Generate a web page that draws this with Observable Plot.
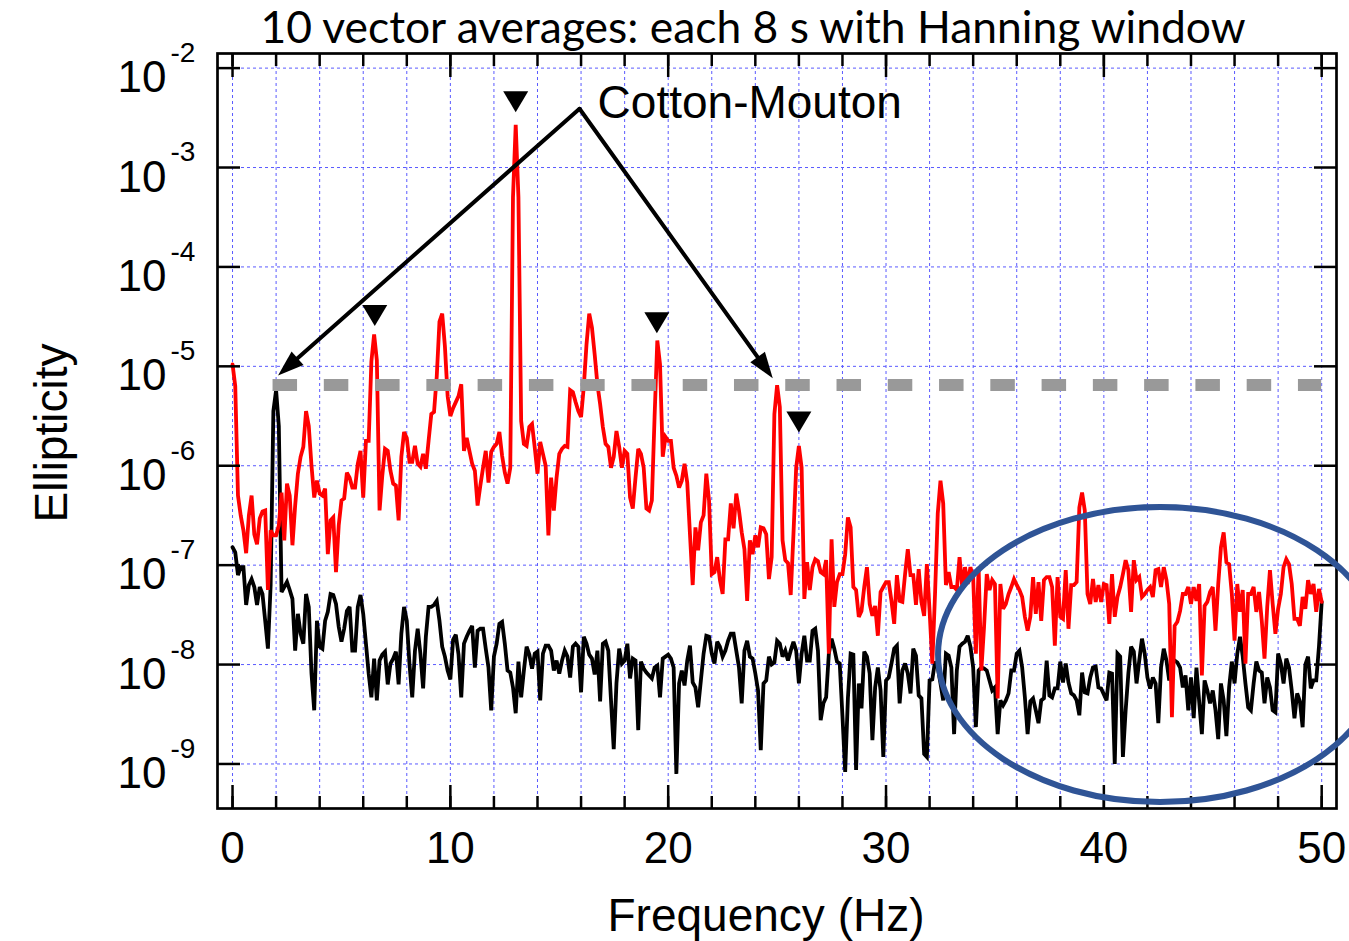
<!DOCTYPE html>
<html>
<head>
<meta charset="utf-8">
<script src="https://cdn.jsdelivr.net/npm/d3@7"></script>
<script src="https://cdn.jsdelivr.net/npm/@observablehq/plot@0.6"></script>
<style>
  html, body { margin: 0; padding: 0; background: #fff; }
  #chart { width: 1349px; height: 941px; overflow: hidden; }
</style>
</head>
<body>
<div id="chart"></div>
<script>
// ---------- DATA ----------
const freqStep = 0.125; // Hz per bin (8 s records)
// log10 of ellipticity, with magnetic field (red)
const redLog10 = [
-4.98,-5.2,-6.3,-6.5,-6.65,-6.88,-6.5,-6.3,-6.69,-6.79,
-6.53,-6.46,-6.45,-7.25,-6.65,-6.7,-6.7,-6.6,-6.27,-6.75,
-6.18,-6.3,-6.8,-6.4,-6.08,-5.91,-5.81,-5.45,-5.6,-6.0,
-6.32,-6.15,-6.28,-6.3,-6.23,-6.89,-6.55,-6.52,-7.07,-6.6,
-6.35,-6.33,-6.07,-6.12,-6.22,-6.22,-5.98,-5.85,-6.32,-5.75,
-5.75,-4.95,-4.68,-4.94,-6.45,-6.1,-5.83,-5.85,-6.05,-6.18,
-6.2,-6.55,-5.91,-5.66,-5.72,-5.96,-5.96,-5.8,-5.98,-6.01,
-5.88,-6.03,-5.75,-5.48,-5.46,-5.1,-4.55,-4.47,-4.8,-5.3,
-5.5,
-5.42,-5.36,-5.3,-5.18,-5.85,-5.72,-5.85,-5.98,-6.05,
-6.4,-6.2,-6.02,-5.85,-6.17,-5.86,-5.81,-5.78,-5.66,-5.9,
-6.07,-6.18,-6.02,-3.3,-2.57,-3.3,-5.55,-5.78,-5.8,-5.61,
-5.58,-5.82,-6.08,-5.76,-5.88,-6.0,-6.7,-6.12,-6.45,-6.12,
-5.88,-5.83,-5.8,-5.81,-5.24,-5.26,-5.36,-5.45,-5.51,-5.21,
-4.78,-4.47,-4.61,-4.88,-5.18,-5.38,-5.61,-5.78,-5.81,-6.02,
-5.91,-5.65,-5.81,-6.02,-5.85,-5.88,-6.32,-6.43,-6.12,-5.83,
-5.88,-6.02,-6.43,-6.45,-6.35,-5.51,-4.74,-4.98,-5.91,-5.71,
-5.75,
-5.75,-6.02,-6.1,-6.22,-6.15,-5.98,-6.17,-6.69,-7.2,
-6.62,-6.85,-6.57,-6.5,-6.08,-6.35,-7.09,-7.07,-6.92,-7.15,
-7.29,-6.74,-6.74,-6.38,-6.63,-6.28,-6.45,-6.67,-6.84,-7.36,
-6.75,-6.89,-6.7,-6.82,-6.62,-6.63,-6.69,-7.14,-6.92,-5.48,
-5.19,-5.41,-6.75,-6.95,-6.98,-7.3,-6.69,-6.02,-5.8,-6.02,
-7.34,-6.97,-7.25,-7.02,-6.94,-6.96,-7.07,-7.09,-6.95,-7.89,
-6.74,-7.42,-7.17,-7.09,-7.09,-6.89,-6.52,-6.62,-7.22,-7.25,
-7.52,-7.46,-7.22,-7.02,-7.39,-7.51,-7.41,-7.71,-7.27,-7.22,
-7.17,
-7.17,-7.36,-7.59,-7.1,-7.36,-7.37,-7.09,-6.84,-7.1,
-7.1,-7.4,-7.04,-7.37,-7.51,-6.99,-7.46,-7.99,-7.29,-6.48,
-6.15,-6.38,-7.2,-7.07,-7.22,-7.22,-7.25,-6.92,-7.22,-7.02,
-7.19,-7.02,-7.12,-7.89,-7.02,-8.06,-7.62,-7.09,-7.25,-7.15,
-7.19,-8.34,-7.19,-7.44,-7.39,-7.29,-7.22,-7.14,-7.2,-7.25,
-7.32,-7.52,-7.66,-7.52,-7.12,-7.49,-7.17,-7.56,-7.15,-7.12,
-7.12,-7.22,-7.81,-7.12,-7.52,-7.54,-7.05,-7.64,-7.2,-7.2,
-7.17,-6.42,-6.27,-6.45,-7.29,-7.39,-7.14,-7.37,-7.2,-7.37,
-7.19,
-7.2,-7.59,-7.09,-7.52,-7.32,-7.22,-7.09,-6.95,-7.05,
-7.47,-6.95,-7.15,-7.12,-7.32,-7.29,-7.25,-7.22,-7.32,-7.05,
-7.04,-7.22,-7.02,-7.15,-7.39,-8.53,-7.61,-7.57,-7.46,-7.29,
-7.29,-7.22,-7.39,-7.22,-7.36,-7.19,-8.11,-7.41,-7.37,-7.27,
-7.22,-7.66,-7.19,-6.82,-6.67,-6.97,-6.99,-7.29,-7.76,-7.19,
-7.47,-7.25,-7.99,-7.29,-7.29,-7.22,-7.47,-7.27,-7.56,-7.94,
-7.42,-7.05,-7.39,-7.69,-7.44,-7.29,-7.02,-6.94,-6.99,-7.19,
-7.54,-7.54,-7.61,-7.32,-7.44,-7.15,-7.29,-7.19,-7.47,-7.24,
-7.37
];
// log10 of ellipticity, without field (black)
const blackLog10 = [
-6.82,-6.87,-7.1,-7.02,-7.02,-7.4,-7.2,-7.14,-7.22,-7.4,
-7.22,-7.29,-7.56,-7.84,-7.2,-5.45,-5.24,-5.6,-7.27,-7.22,
-7.17,-7.25,-7.34,-7.86,-7.49,-7.69,-7.79,-7.29,-7.42,-8.09,
-8.46,-7.56,-7.82,-7.84,-7.56,-7.47,-7.29,-7.3,-7.39,-7.62,
-7.77,-7.64,-7.46,-7.42,-7.86,-7.86,-7.42,-7.3,-7.49,-7.79,
-8.09,-8.33,-7.94,-8.36,-7.96,-7.9,-7.87,-8.2,-7.99,-7.94,
-7.87,-8.2,-7.69,-7.42,-7.56,-8.0,-8.33,-7.86,-7.64,-7.89,
-8.24,-7.72,-7.42,-7.42,-7.4,-7.36,-7.56,-7.82,-7.92,-8.06,
-8.15,
-7.75,-7.7,-7.9,-8.33,-7.79,-7.72,-7.66,-7.61,-8.03,
-7.66,-7.64,-7.64,-7.84,-8.03,-8.46,-7.92,-7.79,-7.59,-7.57,
-7.79,-8.06,-8.08,-8.23,-8.49,-7.97,-8.33,-8.06,-7.82,-7.9,
-8.04,-7.89,-7.87,-8.36,-7.89,-7.81,-7.81,-7.86,-8.06,-7.96,
-8.09,-7.96,-7.86,-7.92,-8.13,-7.82,-7.79,-7.82,-8.28,-7.72,
-7.79,-7.9,-7.94,-8.1,-7.86,-8.37,-7.79,-7.77,-7.86,-8.36,
-8.85,-8.19,-7.84,-7.99,-7.96,-7.79,-8.14,-7.94,-7.96,-8.66,
-7.97,-8.04,-8.08,-8.11,-8.14,-8.03,-8.01,-8.33,-7.94,-7.92,
-7.9,
-7.94,-8.03,-9.1,-8.19,-8.06,-8.21,-7.96,-7.81,-8.18,
-8.23,-8.43,-8.16,-7.89,-7.71,-7.72,-7.89,-7.99,-7.77,-7.82,
-7.92,-7.86,-7.76,-7.69,-7.69,-7.86,-8.03,-8.39,-7.86,-7.76,
-7.92,-7.94,-8.09,-8.26,-8.86,-8.19,-8.16,-7.92,-8.0,-7.98,
-7.76,-7.79,-7.92,-7.86,-7.96,-7.86,-7.77,-7.86,-8.19,-7.89,
-7.71,-7.96,-7.96,-7.66,-7.64,-7.86,-8.56,-8.39,-8.33,-7.89,
-7.74,-7.84,-7.97,-7.99,-8.52,-9.08,-8.34,-7.89,-7.9,-9.06,
-8.19,-8.44,-7.87,-7.92,-8.09,-8.76,-8.23,-8.03,-8.26,-8.93,
-8.16,
-8.13,-7.99,-7.84,-7.81,-8.39,-8.06,-7.99,-8.09,-8.29,
-7.84,-7.91,-8.31,-8.34,-8.9,-8.93,-8.16,-8.15,-7.97,-8.03,
-8.19,-8.36,-7.89,-7.91,-8.03,-8.7,-8.06,-7.82,-7.79,-7.77,
-7.71,-7.82,-8.03,-8.63,-8.06,-8.03,-8.04,-8.06,-8.16,-8.26,
-8.23,-8.7,-8.36,-8.41,-8.36,-8.29,-8.06,-8.06,-7.89,-7.86,
-8.03,-8.33,-8.7,-8.37,-8.34,-8.46,-8.59,-8.36,-8.34,-7.96,
-8.31,-8.33,-8.24,-8.24,-7.97,-8.18,-7.99,-8.18,-8.29,-8.31,
-8.36,-8.51,-8.08,-8.28,-8.29,-8.13,-8.03,-8.02,-8.23,-8.24,
-8.3,
-8.36,-8.08,-8.09,-9.0,-7.89,-7.92,-8.93,-8.46,-8.09,
-7.82,-7.87,-8.19,-7.96,-7.74,-7.89,-8.13,-8.24,-8.13,-8.19,
-8.59,-8.03,-7.84,-7.96,-8.16,-7.99,-7.96,-7.98,-8.03,-8.23,
-8.11,-8.46,-8.13,-8.54,-8.03,-8.37,-8.7,-8.16,-8.26,-8.39,
-8.26,-8.46,-8.75,-8.19,-8.36,-8.72,-8.23,-7.97,-8.19,-7.89,
-7.72,-7.92,-8.19,-8.43,-8.46,-8.19,-7.97,-8.06,-8.08,-8.39,
-8.13,-8.23,-8.46,-8.48,-7.89,-7.99,-8.19,-7.94,-8.03,-8.26,
-8.54,-8.29,-8.37,-8.63,-8.0,-7.92,-8.24,-8.16,-8.16,-7.82,
-7.37
];

// axis ticks / labels
const xMajorTicks = [0, 10, 20, 30, 40, 50];
const xMinorTicks = [0,2,4,6,8,10,12,14,16,18,20,22,24,26,28,30,32,34,36,38,40,42,44,46,48,50];
const yExponents = [-2, -3, -4, -5, -6, -7, -8, -9];

// annotations
const titleText = "10 vector averages: each 8 s with Hanning window";
const thresholdValue = 6.5e-6;          // grey dashed level
const thresholdFrom = 1.86, thresholdTo = 50.0;
const markerFreqs = [6.53, 13.0, 19.48, 26.0];   // ▼ markers
const markerValues = [3.24e-5, 4.58e-3, 2.75e-5, 2.75e-6];
const arrowApex = {f: 15.93, v: 3.9e-3};
const arrowTipFreqs = [2.09, 24.8];
const arrowTipValues = [8.1e-6, 7.6e-6];
const cmLabel = {text: "Cotton-Mouton", f: 16.76, v: 4.48e-3};
const ellipseCenter = {f: 42.58, v: 1.26e-8};

// ---------- BUILD ----------
const yTicks = yExponents.map(e => Math.pow(10, e));
const red = redLog10.map((e, i) => ({f: i * freqStep, v: Math.pow(10, e)}));
const black = blackLog10.map((e, i) => ({f: i * freqStep, v: Math.pow(10, e)}));
const arrows = arrowTipFreqs.map((f, i) => ({x1: arrowApex.f, y1: arrowApex.v, x2: f, y2: arrowTipValues[i]}));
const markers = markerFreqs.map((f, i) => ({f, v: markerValues[i]}));

const markerSymbol = { draw(c) { c.moveTo(-12.5, -10.5); c.lineTo(12.5, -10.5); c.lineTo(0, 10.5); c.closePath(); } };
const headSymbol = { draw(c) { c.moveTo(0, 0); c.lineTo(-9, 26); c.lineTo(9, 26); c.closePath(); } };
const ellipseSymbol = { draw(c) {
  const rx = 222, ry = 147.5, k = 0.5523;
  c.moveTo(rx, 0);
  c.bezierCurveTo(rx, ry * k, rx * k, ry, 0, ry);
  c.bezierCurveTo(-rx * k, ry, -rx, ry * k, -rx, 0);
  c.bezierCurveTo(-rx, -ry * k, -rx * k, -ry, 0, -ry);
  c.bezierCurveTo(rx * k, -ry, rx, -ry * k, rx, 0);
  c.closePath();
} };

const gridColor = "#5a5aff";
const font = "'Liberation Sans', Arial, sans-serif";

function makePlot(rotations) {
  return Plot.plot({
    width: 1349, height: 941,
    marginTop: 53, marginRight: 13, marginBottom: 133, marginLeft: 217,
    style: {fontFamily: font, background: "#fff", overflow: "visible", color: "#000"},
    x: {domain: [-0.69, 50.68]},
    y: {type: "log", domain: [Math.pow(10, -9.448), Math.pow(10, -1.853)]},
    marks: [
      Plot.gridX({ticks: xMinorTicks, stroke: gridColor, strokeOpacity: 1, strokeWidth: 1, strokeDasharray: "3,3"}),
      Plot.gridY({ticks: yTicks, stroke: gridColor, strokeOpacity: 1, strokeWidth: 1, strokeDasharray: "3,3"}),
      Plot.line(black, {x: "f", y: "v", stroke: "#000", strokeWidth: 3.8, strokeLinejoin: "miter", strokeMiterlimit: 3}),
      Plot.line(red, {x: "f", y: "v", stroke: "#ff0000", strokeWidth: 3.8, strokeLinejoin: "miter", strokeMiterlimit: 3}),
      Plot.ruleY([thresholdValue], {x1: thresholdFrom, x2: thresholdTo, stroke: "#999999", strokeWidth: 12, strokeDasharray: "24.5,26.77"}),
      Plot.dot(markers, {x: "f", y: "v", symbol: markerSymbol, fill: "#000", stroke: "none", r: 10}),
      Plot.arrow(arrows, {x1: "x1", y1: "y1", x2: "x2", y2: "y2", stroke: "#000", strokeWidth: 4, headLength: 0, insetEnd: 14}),
      Plot.dot(arrows.map((a, i) => ({...a, rot: rotations[i]})), {x: "x2", y: "y2", symbol: headSymbol, rotate: "rot", fill: "#000", stroke: "none", r: 10}),
      Plot.text([cmLabel], {x: "f", y: "v", text: "text", textAnchor: "start", lineAnchor: "middle", fontSize: 46, fill: "#000"}),
      Plot.frame({stroke: "#000", strokeWidth: 2.7}),
      // ticks (inward)
      Plot.axisX({anchor: "bottom", ticks: xMinorTicks, tickSize: -12, tickFormat: () => "", strokeWidth: 2.5}),
      Plot.axisX({anchor: "bottom", ticks: xMajorTicks, tickSize: -23, tickFormat: () => "", strokeWidth: 2.5}),
      Plot.axisX({anchor: "top", ticks: xMinorTicks, tickSize: -12, tickFormat: () => "", strokeWidth: 2.5}),
      Plot.axisX({anchor: "top", ticks: xMajorTicks, tickSize: -23, tickFormat: () => "", strokeWidth: 2.5}),
      Plot.axisY({anchor: "left", ticks: yTicks, tickSize: -23, tickFormat: () => "", strokeWidth: 2.5}),
      Plot.axisY({anchor: "right", ticks: yTicks, tickSize: -23, tickFormat: () => "", strokeWidth: 2.5}),
      // tick labels
      Plot.text(xMajorTicks, {x: d => d, frameAnchor: "bottom", text: d => String(d), dy: 40, lineAnchor: "middle", fontSize: 44, fill: "#000"}),
      Plot.text(yTicks, {y: d => d, frameAnchor: "left", text: () => "10", dx: -51, dy: 10, textAnchor: "end", lineAnchor: "middle", fontSize: 44, fill: "#000"}),
      Plot.text(yTicks, {y: d => d, frameAnchor: "left", text: (d, i) => String(yExponents[i]), dx: -47, dy: -15, textAnchor: "start", lineAnchor: "middle", fontSize: 28, fill: "#000"}),
      // axis titles
      Plot.text(["Frequency (Hz)"], {frameAnchor: "bottom", text: d => d, dx: -11, dy: 108, textAnchor: "middle", lineAnchor: "middle", fontSize: 46, fill: "#000"}),
      Plot.text(["Ellipticity"], {frameAnchor: "left", text: d => d, dx: -165, dy: 2, rotate: -90, textAnchor: "middle", lineAnchor: "middle", fontSize: 46, fill: "#000"}),
      // title
      Plot.text([titleText], {frameAnchor: "top", text: d => d, dx: -24, dy: -25, textAnchor: "middle", lineAnchor: "middle", fontSize: 44.4, fontFamily: "Lato, 'Open Sans', sans-serif", fill: "#000"}),
      // highlight ellipse
      Plot.dot([ellipseCenter], {x: "f", y: "v", symbol: ellipseSymbol, fill: "none", stroke: "#2f5496", strokeWidth: 6, r: 10})
    ]
  });
}

// first pass to obtain scales, then compute arrow-head orientation
const probe = makePlot([0, 0]);
const sx = probe.scale("x"), sy = probe.scale("y");
const rotations = arrows.map(a => {
  const dx = sx.apply(a.x2) - sx.apply(a.x1);
  const dy = sy.apply(a.y2) - sy.apply(a.y1);
  return Math.atan2(dx, -dy) * 180 / Math.PI;
});
document.getElementById("chart").appendChild(makePlot(rotations));
</script>
</body>
</html>
